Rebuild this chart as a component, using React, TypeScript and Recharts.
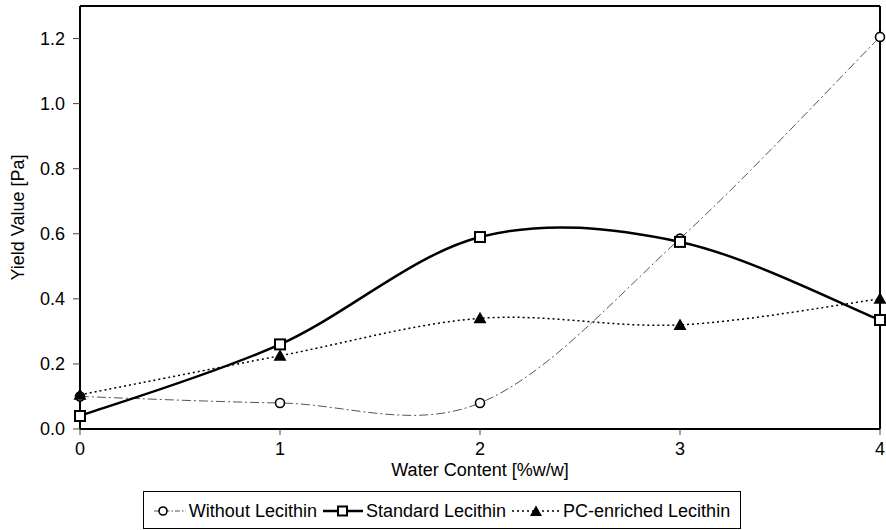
import React from 'react';
import { LineChart, Line, XAxis, YAxis, ReferenceLine } from 'recharts';

// Water content of each sample, %w/w
const waterContent = [0, 1, 2, 3, 4];

// Yield values in Pa for each emulsifier
const withoutLecithin = [0.1, 0.08, 0.08, 0.585, 1.205];
const standardLecithin = [0.04, 0.26, 0.59, 0.575, 0.335];
const pcEnrichedLecithin = [0.105, 0.225, 0.34, 0.32, 0.4];

const xTicks = [0, 1, 2, 3, 4];
const yTicks = [0, 0.2, 0.4, 0.6, 0.8, 1.0, 1.2];

const seriesNames = ['Without Lecithin', 'Standard Lecithin', 'PC-enriched Lecithin'];

const data = waterContent.map((w, i) => ({
    water: w,
    without: withoutLecithin[i],
    standard: standardLecithin[i],
    pc: pcEnrichedLecithin[i],
}));

const FONT = '"Liberation Sans", Arial, sans-serif';
const FS = 18;

// Spreadsheet-style smoothing: cubic bezier through every point, tangents from neighbours / 6
const smoothCurve = (context: any) => {
    let pts: number[][] = [];
    return {
        areaStart() {},
        areaEnd() {},
        lineStart() {
            pts = [];
        },
        point(x: number, y: number) {
            pts.push([+x, +y]);
        },
        lineEnd() {
            const n = pts.length;
            if (!n) return;
            context.moveTo(pts[0][0], pts[0][1]);
            for (let i = 0; i < n - 1; i++) {
                const p0 = pts[Math.max(i - 1, 0)];
                const p1 = pts[i];
                const p2 = pts[i + 1];
                const p3 = pts[Math.min(i + 2, n - 1)];
                context.bezierCurveTo(
                    p1[0] + (p2[0] - p0[0]) / 6,
                    p1[1] + (p2[1] - p0[1]) / 6,
                    p2[0] - (p3[0] - p1[0]) / 6,
                    p2[1] - (p3[1] - p1[1]) / 6,
                    p2[0],
                    p2[1],
                );
            }
        },
    };
};

const CircleMark = ({ cx, cy }: { cx: number; cy: number }) => (
    <circle cx={cx} cy={cy} r={4.5} fill="#fff" stroke="#000" strokeWidth={1.6} />
);

const SquareMark = ({ cx, cy }: { cx: number; cy: number }) => (
    <rect x={cx - 5} y={cy - 5} width={10} height={10} fill="#fff" stroke="#000" strokeWidth={2} />
);

const TriangleMark = ({ cx, cy }: { cx: number; cy: number }) => (
    <path d={`M${cx},${cy - 6.5}L${cx + 6.5},${cy + 5}L${cx - 6.5},${cy + 5}Z`} fill="#000" />
);

const dotFor = (Mark: React.FC<{ cx: number; cy: number }>) => (props: any) => (
    <Mark key={`m-${props.index}`} cx={props.cx} cy={props.cy} />
);

const YTitle = ({ viewBox }: any) => {
    const cx = viewBox.x + 18;
    const cy = viewBox.y + viewBox.height / 2;
    return (
        <text
            x={cx}
            y={cy}
            transform={`rotate(-90 ${cx} ${cy})`}
            textAnchor="middle"
            dominantBaseline="central"
            fontSize={FS}
            fill="#000"
        >
            Yield Value [Pa]
        </text>
    );
};

const XTitle = ({ viewBox }: any) => (
    <text
        x={viewBox.x + viewBox.width / 2}
        y={viewBox.y + 47}
        textAnchor="middle"
        fontSize={FS}
        fill="#000"
    >
        Water Content [%w/w]
    </text>
);

const legendSamples = [
    (
        <svg width={32} height={12} key="s0">
            <line x1={0} y1={6} x2={32} y2={6} stroke="#555" strokeWidth={1} strokeDasharray="5 2 1.5 2" />
            <circle cx={9} cy={6} r={4} fill="#fff" stroke="#000" strokeWidth={1.6} />
        </svg>
    ),
    (
        <svg width={40} height={12} key="s1">
            <line x1={0} y1={6} x2={40} y2={6} stroke="#000" strokeWidth={2.5} />
            <rect x={15} y={1.5} width={9} height={9} fill="#fff" stroke="#000" strokeWidth={2} />
        </svg>
    ),
    (
        <svg width={48} height={12} key="s2">
            <line x1={0} y1={6} x2={48} y2={6} stroke="#000" strokeWidth={1.6} strokeDasharray="2 3" />
            <path d="M24,0.5L30,11L18,11Z" fill="#000" />
        </svg>
    ),
];

const App: React.FC = () => (
    <div style={{ position: 'absolute', left: 0, top: 0, width: 886, height: 530, fontFamily: FONT, background: '#fff' }}>
        <LineChart width={886} height={530} data={data} margin={{ top: 6, right: 6, bottom: 0, left: 0 }}>
            <XAxis
                dataKey="water"
                type="number"
                domain={[0, 4]}
                ticks={xTicks}
                height={101}
                tickSize={6}
                tickMargin={7}
                axisLine={{ stroke: '#000', strokeWidth: 2 }}
                tickLine={{ stroke: '#444' }}
                tick={{ fill: '#000', fontSize: FS }}
                label={<XTitle />}
            />
            <YAxis
                type="number"
                domain={[0, 1.3]}
                ticks={yTicks}
                width={80}
                tickSize={7}
                tickMargin={8}
                tickFormatter={(v: number) => v.toFixed(1)}
                axisLine={{ stroke: '#000', strokeWidth: 2 }}
                tickLine={{ stroke: '#444' }}
                tick={{ fill: '#000', fontSize: FS }}
                label={<YTitle />}
            />
            <ReferenceLine y={1.3} stroke="#000" strokeWidth={2} />
            <ReferenceLine x={4} stroke="#000" strokeWidth={2} />
            <Line
                dataKey="without"
                name={seriesNames[0]}
                type={smoothCurve as any}
                stroke="#555"
                strokeWidth={1}
                strokeDasharray="9 3 2 3"
                dot={dotFor(CircleMark)}
                activeDot={false}
                isAnimationActive={false}
            />
            <Line
                dataKey="standard"
                name={seriesNames[1]}
                type={smoothCurve as any}
                stroke="#000"
                strokeWidth={2.5}
                dot={dotFor(SquareMark)}
                activeDot={false}
                isAnimationActive={false}
            />
            <Line
                dataKey="pc"
                name={seriesNames[2]}
                type={smoothCurve as any}
                stroke="#000"
                strokeWidth={1.5}
                strokeDasharray="2 3"
                dot={dotFor(TriangleMark)}
                activeDot={false}
                isAnimationActive={false}
            />
        </LineChart>
        <div
            style={{
                position: 'absolute',
                left: 143,
                top: 491,
                width: 598,
                height: 38,
                boxSizing: 'border-box',
                border: '1.5px solid #000',
                paddingTop: 2,
                display: 'flex',
                alignItems: 'center',
                justifyContent: 'center',
                fontSize: FS,
                color: '#000',
            }}
        >
            {seriesNames.map((name, i) => (
                <div key={name} style={{ display: 'flex', alignItems: 'center', marginRight: i < 2 ? 6 : 0 }}>
                    {legendSamples[i]}
                    <span style={{ marginLeft: 3 }}>{name}</span>
                </div>
            ))}
        </div>
    </div>
);

export default App;
